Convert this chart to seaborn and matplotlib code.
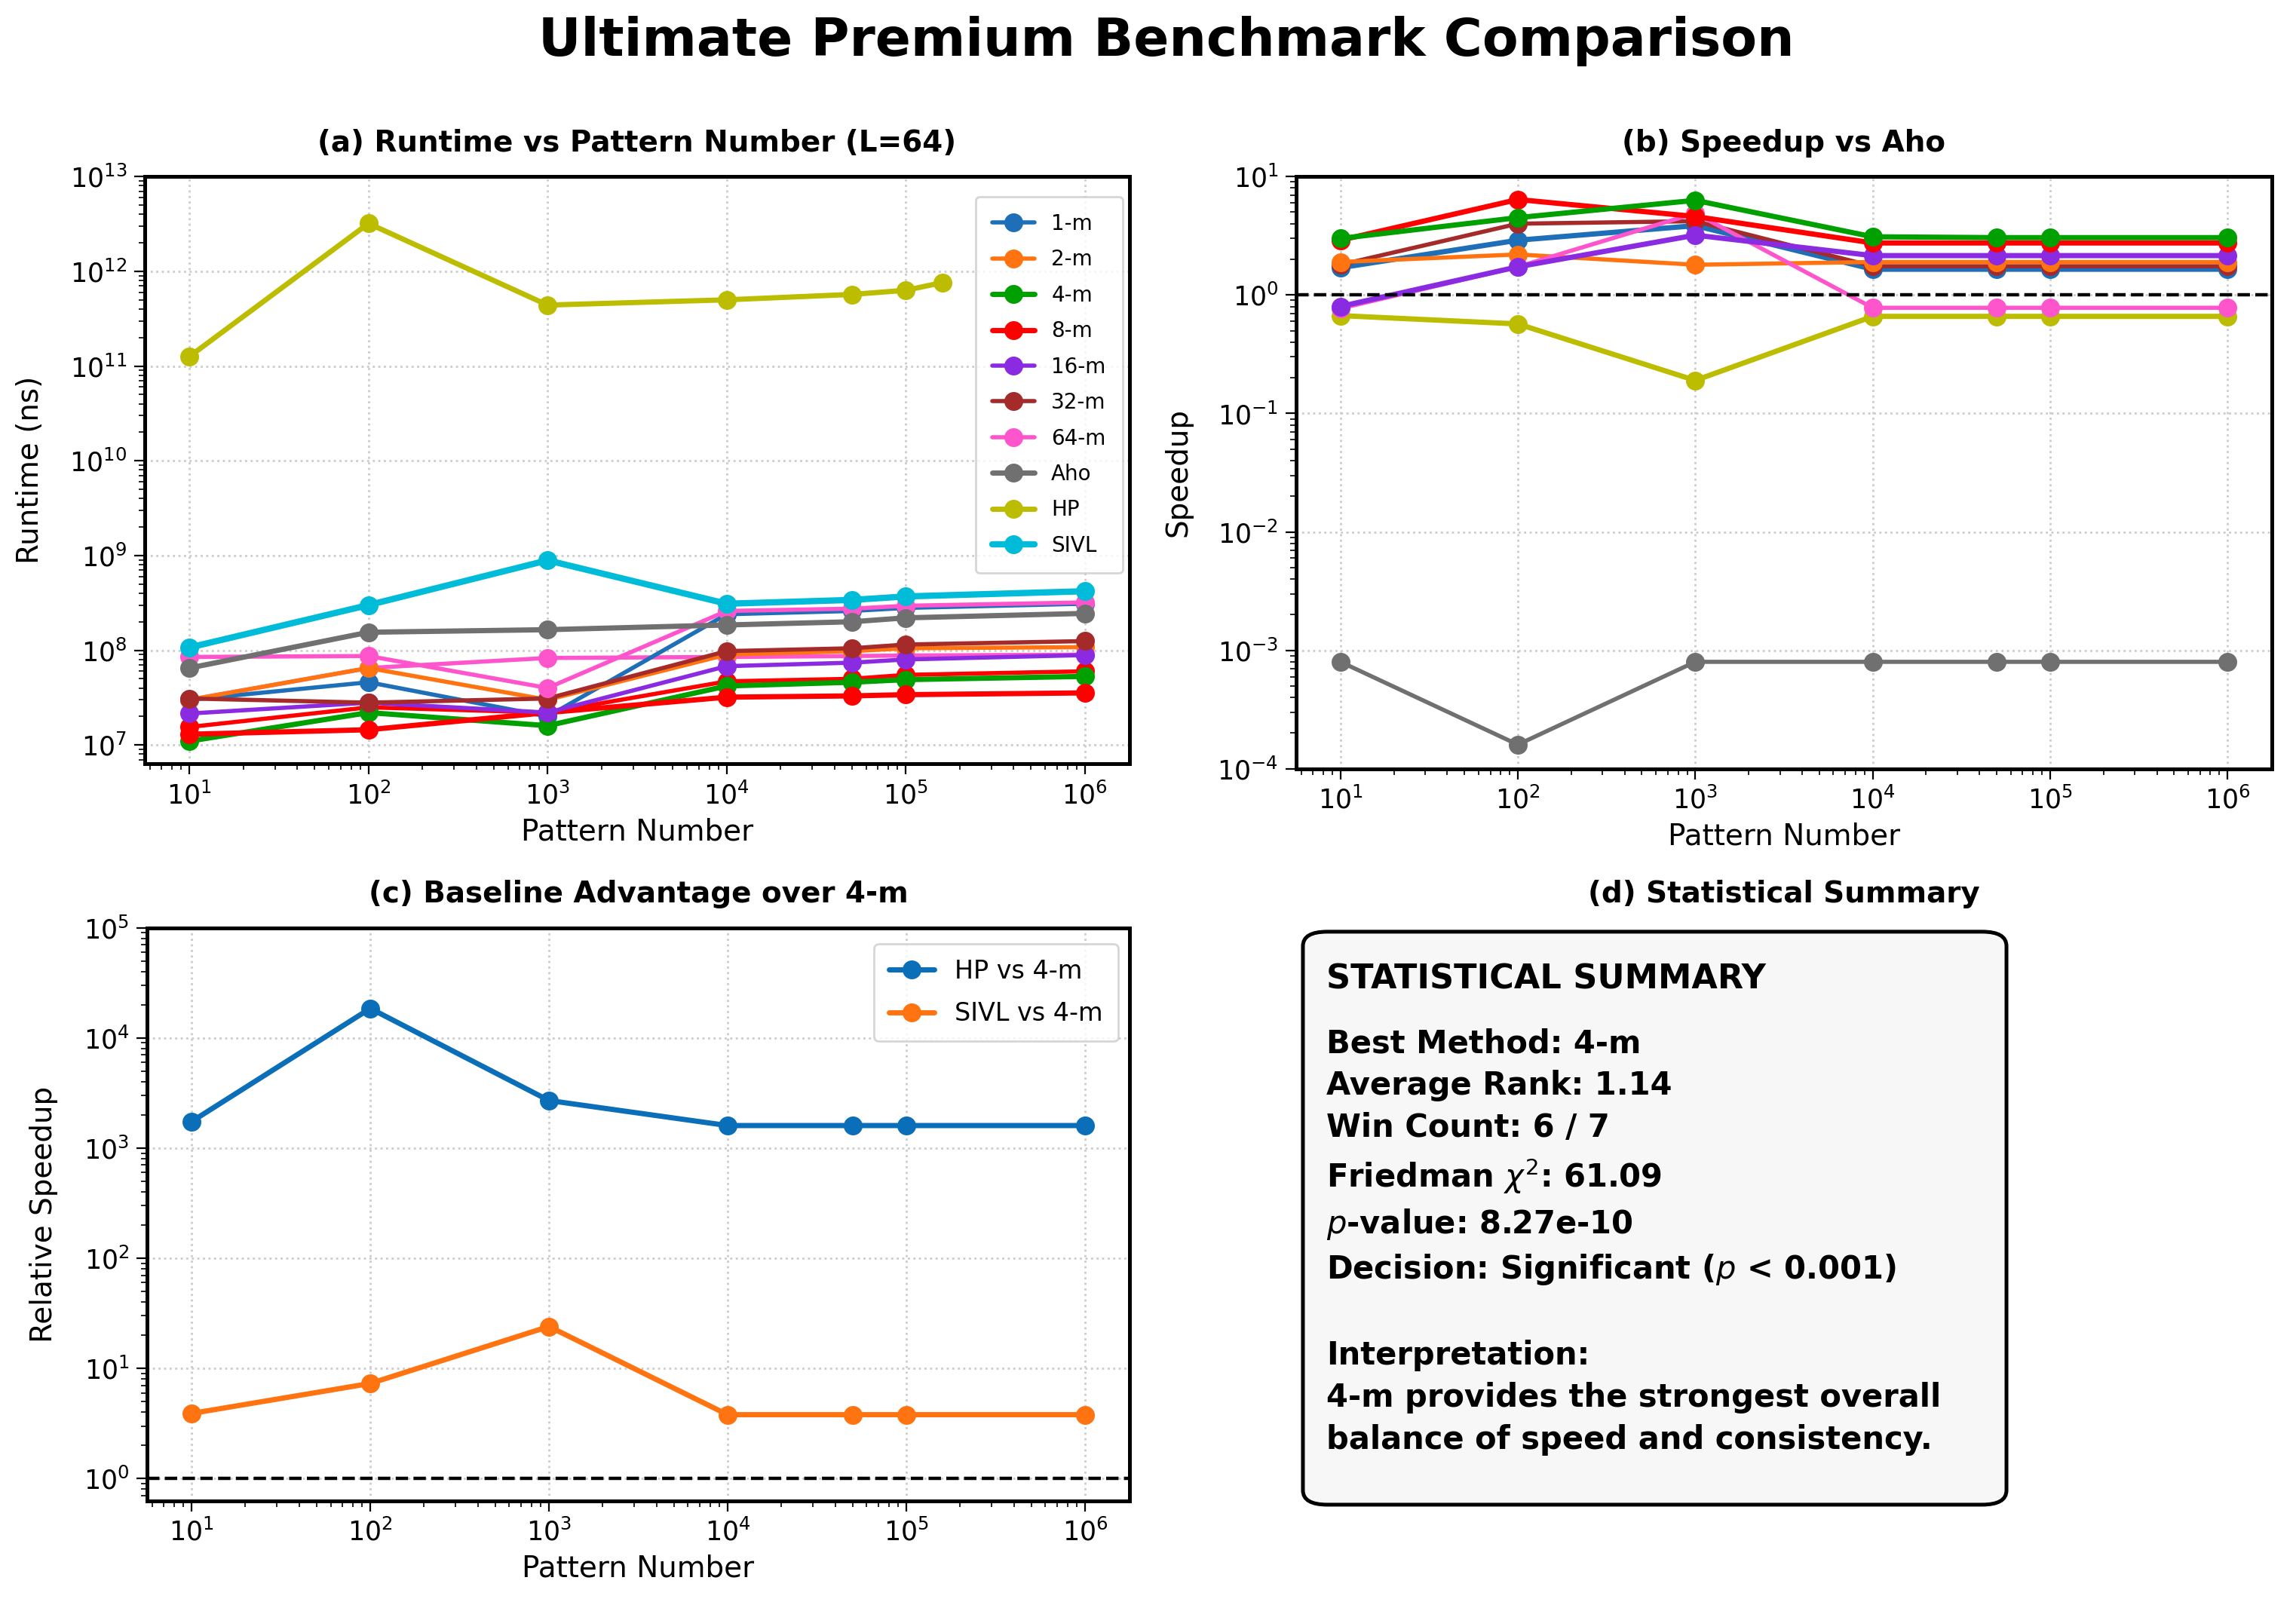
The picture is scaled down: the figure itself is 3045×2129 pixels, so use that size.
import numpy as np
import pandas as pd
import seaborn as sns
import matplotlib.pyplot as plt
from matplotlib.patches import FancyBboxPatch

# pattern counts on the x axis
pattern_numbers = [10, 100, 1000, 10000, 50000, 100000, 1000000]
hp_pattern_numbers = [10, 100, 1000, 10000, 50000, 100000, 160000]

# (a) runtime in ns, L=64
rt_1m = [3.0e7, 4.6e7, 2.0e7, 2.4e8, 2.6e8, 2.8e8, 3.1e8]
rt_2m = [3.0e7, 6.5e7, 3.0e7, 9.0e7, 9.8e7, 1.05e8, 1.08e8]
rt_4m = [1.1e7, 2.2e7, 1.6e7, 4.2e7, 4.6e7, 4.9e7, 5.3e7]
rt_8m = [1.3e7, 1.45e7, 2.2e7, 3.2e7, 3.3e7, 3.4e7, 3.55e7]
rt_16m = [2.15e7, 2.8e7, 2.2e7, 6.8e7, 7.4e7, 8.0e7, 8.9e7]
rt_32m = [3.1e7, 2.8e7, 3.1e7, 9.8e7, 1.05e8, 1.15e8, 1.25e8]
rt_64m = [8.5e7, 8.7e7, 4.0e7, 2.6e8, 2.75e8, 2.95e8, 3.2e8]
rt_aho = [6.5e7, 1.55e8, 1.65e8, 1.85e8, 2.0e8, 2.2e8, 2.45e8]
rt_hp = [1.26e11, 3.2e12, 4.4e11, 5.0e11, 5.7e11, 6.3e11, 7.6e11]
rt_sivl = [1.07e8, 3.0e8, 8.9e8, 3.1e8, 3.4e8, 3.7e8, 4.2e8]
# second traces drawn in the same colours (not in the legend)
rt_64m_b = [3.0e7, 6.5e7, 8.3e7, 8.5e7, 8.7e7, 8.8e7, 9.0e7]
rt_8m_b = [1.55e7, 2.5e7, 2.2e7, 4.7e7, 5.0e7, 5.5e7, 6.0e7]

# (b) speedup vs Aho
sp_1m = [1.7, 2.9, 3.85, 1.65, 1.65, 1.65, 1.65]
sp_2m = [1.9, 2.2, 1.8, 1.9, 1.9, 1.9, 1.9]
sp_4m = [3.0, 4.5, 6.3, 3.1, 3.05, 3.05, 3.05]
sp_8m = [2.9, 6.4, 4.6, 2.75, 2.75, 2.75, 2.75]
sp_16m = [0.8, 1.73, 3.2, 2.15, 2.15, 2.15, 2.15]
sp_32m = [1.8, 4.0, 4.2, 1.75, 1.75, 1.75, 1.75]
sp_64m = [0.77, 1.73, 4.9, 0.78, 0.78, 0.78, 0.78]
sp_aho = [8e-4, 1.6e-4, 8e-4, 8e-4, 8e-4, 8e-4, 8e-4]
sp_hp = [0.67, 0.57, 0.19, 0.66, 0.66, 0.66, 0.66]

# (c) relative speedup over 4-m
hp_vs_4m = [1740, 18500, 2700, 1600, 1600, 1600, 1600]
sivl_vs_4m = [3.9, 7.3, 24, 3.8, 3.8, 3.8, 3.8]

colors = {
    '1-m': '#1f6fb8', '2-m': '#ff7410', '4-m': '#00a000', '8-m': '#ff0000',
    '16-m': '#8a2be2', '32-m': '#a52a2a', '64-m': '#ff55cc', 'Aho': '#707070',
    'HP': '#bcbd00', 'SIVL': '#00bcd8',
}

sns.set_style('ticks')
plt.rcParams['font.family'] = ['DejaVu Sans']
plt.rcParams['text.color'] = 'black'
plt.rcParams['axes.labelcolor'] = 'black'
plt.rcParams['xtick.color'] = 'black'
plt.rcParams['ytick.color'] = 'black'
plt.rcParams['axes.edgecolor'] = 'black'
plt.rcParams['axes.linewidth'] = 1.8
plt.rcParams['xtick.major.size'] = 5
plt.rcParams['ytick.major.size'] = 5
plt.rcParams['xtick.minor.size'] = 3
plt.rcParams['ytick.minor.size'] = 3

fig = plt.figure(figsize=(15.225, 10.645), dpi=200)
ax_a = fig.add_axes([0.063, 0.524, 0.429, 0.366])
ax_b = fig.add_axes([0.5645, 0.521, 0.425, 0.369])
ax_c = fig.add_axes([0.064, 0.065, 0.428, 0.357])
ax_d = fig.add_axes([0.5645, 0.065, 0.425, 0.357])


def draw(ax, x, y, name, label=None, lw=2.0):
    df = pd.DataFrame({'x': x, 'y': y})
    sns.lineplot(data=df, x='x', y='y', ax=ax, color=colors[name], marker='o',
                 markersize=9, markeredgewidth=0, linewidth=lw,
                 label=label if label else '_' + name, legend=False)


def style(ax, title, ylabel):
    ax.set_xscale('log')
    ax.set_yscale('log')
    ax.set_title(title, fontsize=14, fontweight='bold', pad=12)
    ax.set_xlabel('Pattern Number', fontsize=14)
    ax.set_ylabel(ylabel, fontsize=14, labelpad=12)
    ax.grid(True, which='major', linestyle=':', color='#cccccc', linewidth=1)
    ax.tick_params(labelsize=12.5)
    for s in ax.spines.values():
        s.set_visible(True)
        s.set_color('black')


# (a)
draw(ax_a, pattern_numbers, rt_64m_b, '64-m')
draw(ax_a, pattern_numbers, rt_8m_b, '8-m')
draw(ax_a, pattern_numbers, rt_1m, '1-m', '1-m')
draw(ax_a, pattern_numbers, rt_2m, '2-m', '2-m')
draw(ax_a, pattern_numbers, rt_4m, '4-m', '4-m', lw=2.5)
draw(ax_a, pattern_numbers, rt_8m, '8-m', '8-m', lw=2.5)
draw(ax_a, pattern_numbers, rt_16m, '16-m', '16-m')
draw(ax_a, pattern_numbers, rt_32m, '32-m', '32-m')
draw(ax_a, pattern_numbers, rt_64m, '64-m', '64-m')
draw(ax_a, pattern_numbers, rt_aho, 'Aho', 'Aho', lw=2.5)
draw(ax_a, hp_pattern_numbers, rt_hp, 'HP', 'HP', lw=2.5)
draw(ax_a, pattern_numbers, rt_sivl, 'SIVL', 'SIVL', lw=3)
style(ax_a, '(a) Runtime vs Pattern Number (L=64)', 'Runtime (ns)')
ax_a.set_ylim(10 ** 6.8, 1e13)
ax_a.legend(loc='upper right', bbox_to_anchor=(0.993, 0.966), borderaxespad=0,
            fontsize=10, labelspacing=0.7, handlelength=2.0, borderpad=0.8)

# (b)
draw(ax_b, pattern_numbers, sp_aho, 'Aho')
draw(ax_b, pattern_numbers, sp_hp, 'HP', lw=2.5)
draw(ax_b, pattern_numbers, sp_1m, '1-m', lw=2.5)
draw(ax_b, pattern_numbers, sp_32m, '32-m')
draw(ax_b, pattern_numbers, sp_2m, '2-m')
draw(ax_b, pattern_numbers, sp_64m, '64-m')
draw(ax_b, pattern_numbers, sp_16m, '16-m', lw=2.5)
draw(ax_b, pattern_numbers, sp_8m, '8-m', lw=2.5)
draw(ax_b, pattern_numbers, sp_4m, '4-m', lw=2.5)
ax_b.axhline(1, color='black', linestyle='--', linewidth=1.6)
style(ax_b, '(b) Speedup vs Aho', 'Speedup')
ax_b.set_ylim(1e-4, 1e1)

# (c)
df_c = pd.DataFrame({'x': pattern_numbers, 'HP vs 4-m': hp_vs_4m, 'SIVL vs 4-m': sivl_vs_4m})
sns.lineplot(data=df_c, x='x', y='HP vs 4-m', ax=ax_c, color='#0a6fb8', marker='o',
             markersize=9, markeredgewidth=0, linewidth=2.5, label='HP vs 4-m')
sns.lineplot(data=df_c, x='x', y='SIVL vs 4-m', ax=ax_c, color='#ff7410', marker='o',
             markersize=9, markeredgewidth=0, linewidth=2.5, label='SIVL vs 4-m')
ax_c.axhline(1, color='black', linestyle='--', linewidth=1.6)
style(ax_c, '(c) Baseline Advantage over 4-m', 'Relative Speedup')
ax_c.set_ylim(0.63, 1e5)
ax_c.legend(loc='upper right', bbox_to_anchor=(0.988, 0.972), borderaxespad=0,
            fontsize=12, labelspacing=0.7, handlelength=1.8, borderpad=0.6)

# (d)
ax_d.axis('off')
ax_d.set_title('(d) Statistical Summary', fontsize=14, fontweight='bold', pad=12)
box = FancyBboxPatch((0.007, -0.007), 0.721, 1.0, transform=ax_d.transAxes,
                     boxstyle='round,pad=0,rounding_size=0.025', facecolor='#f7f7f7',
                     edgecolor='black', linewidth=1.8, clip_on=False)
ax_d.add_patch(box)
ax_d.text(0.031, 0.91, 'STATISTICAL SUMMARY', transform=ax_d.transAxes,
          fontsize=16, fontweight='bold', va='center', ha='left')
body = ('Best Method: 4-m\n'
        'Average Rank: 1.14\n'
        'Win Count: 6 / 7\n'
        'Friedman $\\chi^2$: 61.09\n'
        '$p$-value: 8.27e-10\n'
        'Decision: Significant ($p$ < 0.001)\n'
        '\n'
        'Interpretation:\n'
        '4-m provides the strongest overall\n'
        'balance of speed and consistency.')
ax_d.text(0.031, 0.825, body, transform=ax_d.transAxes, fontsize=15,
          fontweight='bold', va='top', ha='left', linespacing=1.42)

fig.suptitle('Ultimate Premium Benchmark Comparison', fontsize=25,
             fontweight='bold', x=0.508, y=0.99)

fig.savefig('out.png', dpi=200)
